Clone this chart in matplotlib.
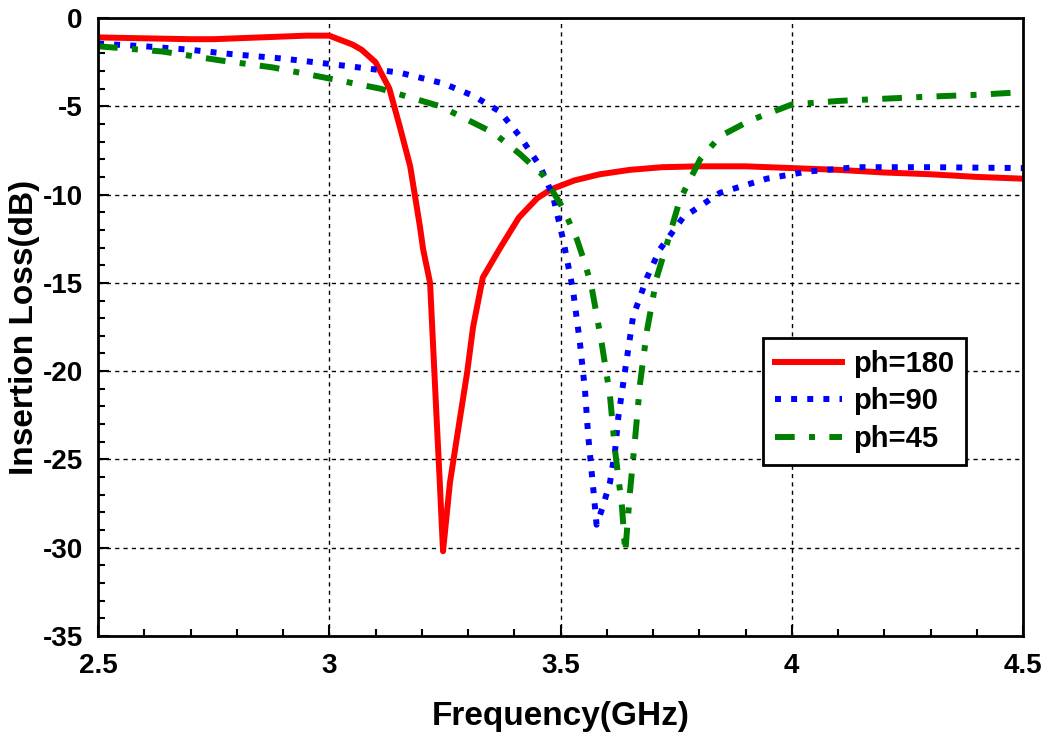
import numpy as np
import matplotlib
matplotlib.use("Agg")
import matplotlib.pyplot as plt
from matplotlib.ticker import MultipleLocator, FuncFormatter

plt.rcParams.update({
    "font.family": "Liberation Sans",
    "font.weight": "bold",
    "axes.labelweight": "bold",
    "axes.unicode_minus": False,
})

# values (GHz, dB)
f_180 = [2.5, 2.6, 2.7, 2.75, 2.85, 2.95, 3.0, 3.05, 3.07, 3.10, 3.13, 3.153, 3.175,
         3.196, 3.203, 3.218, 3.225, 3.232, 3.239, 3.246, 3.261, 3.283, 3.298, 3.311,
         3.332, 3.37, 3.41, 3.45, 3.48, 3.53, 3.585, 3.65, 3.72, 3.8, 3.9, 4.0, 4.1,
         4.2, 4.3, 4.4, 4.5]
il_180 = [-1.1, -1.15, -1.2, -1.2, -1.1, -1.0, -1.0, -1.5, -1.8, -2.5, -4.0, -6.2, -8.4,
          -11.8, -13.1, -15.0, -18.8, -22.6, -26.3, -30.2, -26.3, -22.6, -20.1, -17.5,
          -14.7, -13.0, -11.3, -10.2, -9.7, -9.2, -8.85, -8.6, -8.45, -8.4, -8.4, -8.5,
          -8.6, -8.75, -8.85, -9.0, -9.1]

f_90 = [2.5, 2.6, 2.7, 2.77, 2.9, 3.0, 3.08, 3.153, 3.246, 3.311, 3.369, 3.412, 3.456,
        3.484, 3.506, 3.527, 3.542, 3.553, 3.56, 3.571, 3.578, 3.59, 3.607, 3.618,
        3.625, 3.64, 3.657, 3.687, 3.715, 3.765, 3.845, 3.946, 4.033, 4.14, 4.3, 4.5]
il_90 = [-1.45, -1.6, -1.8, -2.0, -2.3, -2.6, -2.85, -3.1, -3.7, -4.4, -5.3, -6.7, -8.4,
         -10.1, -12.6, -15.4, -18.4, -21.1, -23.7, -26.7, -28.7, -27.8, -26.3, -24.5,
         -22.6, -19.9, -16.9, -14.7, -13.1, -11.3, -9.9, -9.1, -8.7, -8.45, -8.45, -8.5]

f_45 = [2.5, 2.64, 2.764, 2.878, 2.995, 3.11, 3.24, 3.355, 3.412, 3.462, 3.506, 3.535,
        3.553, 3.567, 3.589, 3.607, 3.618, 3.633, 3.64, 3.65, 3.661, 3.672, 3.687,
        3.708, 3.73, 3.758, 3.802, 3.845, 3.91, 4.0, 4.1, 4.176, 4.3, 4.4, 4.5]
il_45 = [-1.6, -1.9, -2.4, -2.8, -3.4, -4.0, -5.0, -6.5, -7.7, -8.9, -10.8, -12.5,
         -13.9, -15.2, -18.4, -21.4, -24.5, -27.7, -30.3, -26.9, -23.9, -20.7, -17.7,
         -14.7, -12.8, -10.3, -8.0, -6.7, -5.8, -4.9, -4.7, -4.6, -4.45, -4.35, -4.2]

labels = ["ph=180", "ph=90", "ph=45"]

fig = plt.figure(figsize=(10.49, 7.35), dpi=100)
ax = fig.add_axes([98 / 1049, 1 - 636 / 735, 925 / 1049, 618 / 735])

lw = 4.3
ax.plot(f_180, il_180, color="#ff0000", lw=lw, label=labels[0], solid_joinstyle="round")
ax.plot(f_90, il_90, color="#0000ff", lw=lw, label=labels[1],
        linestyle=(0, (1.0, 1.7)), dash_capstyle="butt")
ax.plot(f_45, il_45, color="#008000", lw=lw, label=labels[2],
        linestyle=(0, (3.3, 2.4, 1.0, 2.4)), dash_capstyle="butt")

ax.set_xlim(2.5, 4.5)
ax.set_ylim(-35, 0)
ax.xaxis.set_major_locator(MultipleLocator(0.5))
ax.xaxis.set_minor_locator(MultipleLocator(0.1))
ax.yaxis.set_major_locator(MultipleLocator(5))
ax.yaxis.set_minor_locator(MultipleLocator(1))
ax.xaxis.set_major_formatter(FuncFormatter(lambda v, p: f"{v:g}"))
ax.yaxis.set_major_formatter(FuncFormatter(lambda v, p: f"{v:g}"))

ax.grid(True, which="major", color="black", linestyle=(0, (3, 3)), lw=1.0)
ax.tick_params(which="both", direction="in", top=False, right=False,
               labelsize=20, width=1.5)
ax.tick_params(which="major", length=8)
ax.tick_params(which="minor", length=5)
ax.tick_params(axis="x", pad=12)
ax.tick_params(axis="y", pad=11)
for s in ax.spines.values():
    s.set_linewidth(2.0)

ax.set_xlabel("Frequency(GHz)", fontsize=24, labelpad=16)
ax.set_ylabel("Insertion Loss(dB)", fontsize=24, labelpad=2)

leg = ax.legend(loc="upper left", bbox_to_anchor=(0.719, 0.482), borderaxespad=0,
                fontsize=21, handlelength=2.3, handletextpad=0.4, labelspacing=0.33,
                fancybox=False, framealpha=1, edgecolor="black", borderpad=0.4)
leg.get_frame().set_linewidth(2.0)

fig.savefig("out.png", dpi=100)
